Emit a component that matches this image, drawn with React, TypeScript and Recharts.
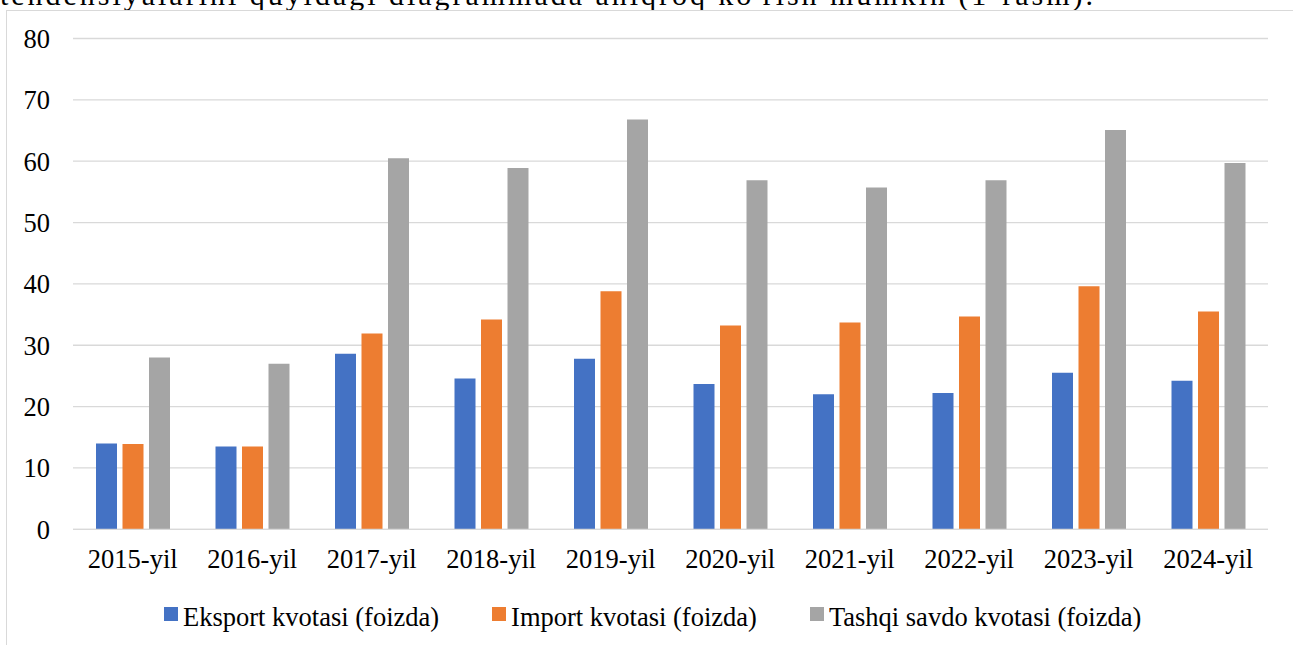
import { BarChart, Bar, XAxis, YAxis, CartesianGrid } from "recharts";

const years = [
  "2015-yil",
  "2016-yil",
  "2017-yil",
  "2018-yil",
  "2019-yil",
  "2020-yil",
  "2021-yil",
  "2022-yil",
  "2023-yil",
  "2024-yil",
];
const eksport = [14.0, 13.5, 28.6, 24.6, 27.8, 23.7, 22.0, 22.2, 25.5, 24.2];
const importQ = [13.9, 13.5, 31.9, 34.2, 38.8, 33.2, 33.7, 34.7, 39.6, 35.5];
const tashqi = [28.0, 27.0, 60.5, 58.9, 66.8, 56.9, 55.7, 56.9, 65.1, 59.7];
const yTicks = [0, 10, 20, 30, 40, 50, 60, 70, 80];

const seriesNames = [
  "Eksport kvotasi (foizda)",
  "Import kvotasi (foizda)",
  "Tashqi savdo kvotasi (foizda)",
];
const colors = ["#4472C4", "#ED7D31", "#A5A5A5"];

const font =
  '"Liberation Serif", "Times New Roman", Tinos, "DejaVu Serif", serif';

const data = years.map((year, i) => ({
  year,
  eksport: eksport[i],
  import: importQ[i],
  tashqi: tashqi[i],
}));

const ChartLegend = () => (
  <div
    style={{
      position: "absolute",
      left: 164,
      top: 602,
      display: "flex",
      height: 30,
      fontFamily: font,
      fontSize: 26.5,
      lineHeight: "30px",
      color: "#000",
      whiteSpace: "nowrap",
    }}
  >
    {seriesNames.map((name, i) => (
      <div key={name} style={{ display: "flex", marginRight: 53 }}>
        <div
          style={{
            width: 14,
            height: 14,
            marginTop: 5,
            marginRight: 5,
            background: colors[i],
          }}
        />
        <span>{name}</span>
      </div>
    ))}
  </div>
);

export default function App() {
  return (
    <div
      style={{
        position: "absolute",
        left: 0,
        top: 0,
        width: 1293,
        height: 645,
        overflow: "hidden",
        background: "#fff",
        fontFamily: font,
      }}
    >
      <svg
        width={1293}
        height={11}
        style={{ position: "absolute", left: 0, top: 0 }}
      >
        <text
          x={0}
          y={5}
          style={{ fontFamily: font, fontSize: 30 }}
          fill="#000"
          textLength={1093}
          lengthAdjust="spacing"
        >
          tendensiyalarini quyidagi diagrammada aniqroq ko'rish mumkin (1-rasm).
        </text>
      </svg>
      <div
        style={{
          position: "absolute",
          left: 6,
          top: 10,
          width: 1310,
          height: 660,
          border: "1px solid #D9D9D9",
        }}
      />
      <div style={{ position: "absolute", left: 0, top: 0 }}>
        <BarChart
          width={1293}
          height={645}
          data={data}
          margin={{ top: 38.5, right: 25, bottom: 85.7, left: 0 }}
          barSize={21}
          barGap={5.5}
        >
          <CartesianGrid
            vertical={false}
            stroke="#D9D9D9"
            strokeWidth={1.3}
          />
          <XAxis
            dataKey="year"
            height={30}
            axisLine={{ stroke: "#D9D9D9", strokeWidth: 1.3 }}
            tickLine={false}
            tickSize={0}
            tickMargin={20}
            interval={0}
            tick={{ fill: "#000", fontSize: 26.5, style: { fontFamily: font } }}
          />
          <YAxis
            width={73}
            domain={[0, 80]}
            ticks={yTicks}
            axisLine={false}
            tickLine={false}
            tickSize={0}
            tickMargin={23}
            tick={{ fill: "#000", fontSize: 26.5, style: { fontFamily: font } }}
          />
          <Bar
            dataKey="eksport"
            name={seriesNames[0]}
            fill={colors[0]}
            isAnimationActive={false}
          />
          <Bar
            dataKey="import"
            name={seriesNames[1]}
            fill={colors[1]}
            isAnimationActive={false}
          />
          <Bar
            dataKey="tashqi"
            name={seriesNames[2]}
            fill={colors[2]}
            isAnimationActive={false}
          />
        </BarChart>
      </div>
      <ChartLegend />
    </div>
  );
}
